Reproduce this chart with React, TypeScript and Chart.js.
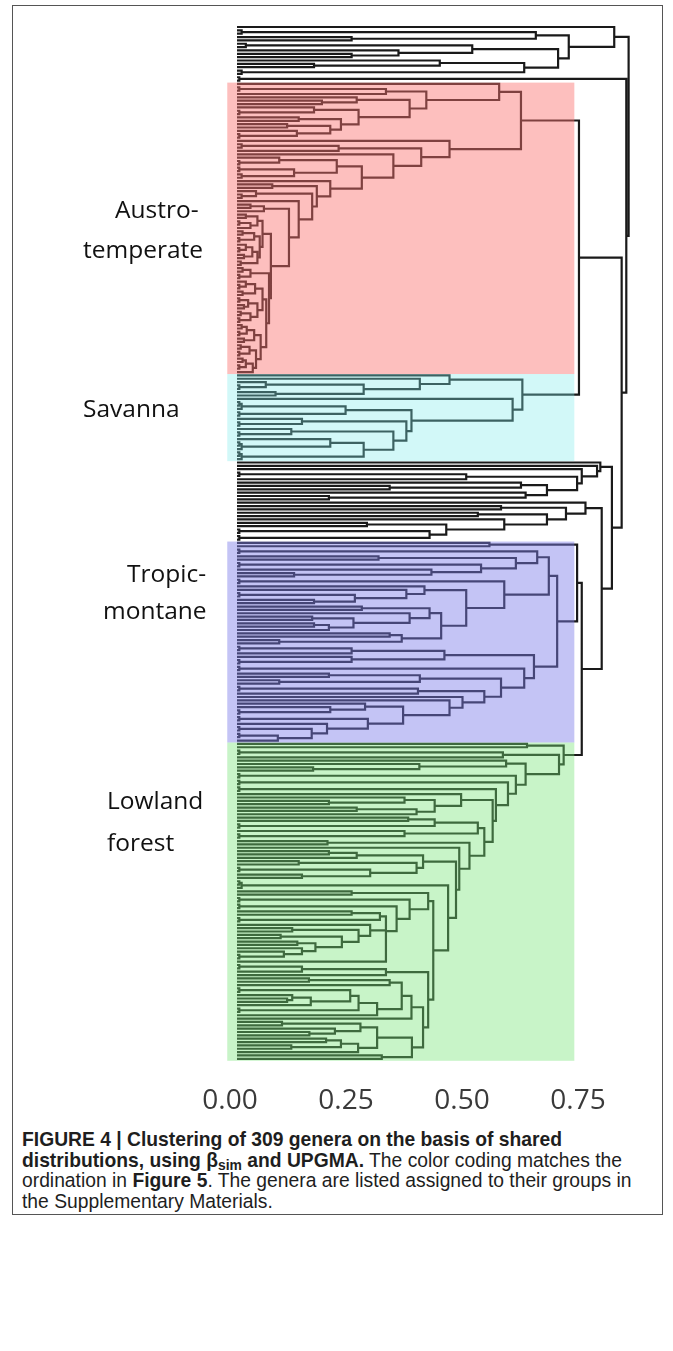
import React, { useEffect, useRef } from "react";
import { Chart, registerables } from "chart.js";

Chart.register(...registerables);

// ---- DATA: merge height between each pair of neighbouring genera (leaf order, top to bottom) ----
const topGroupGaps = [0.813, 0.01, 0.644, 0.247, 0.715, 0.019, 0.507, 0.348, 0.247, 0.692, 0.437, 0.166, 0.619, 0.01];
const soloGaps = [0.005];
const austroGaps = [
  0.565, 0.005, 0.321, 0.408, 0.258, 0.183, 0.372, 0.166, 0.005, 0.262, 0.133, 0.224, 0.108, 0.201, 0.129, 0.005,
  0.612, 0.458, 0.01, 0.219, 0.397, 0.337, 0.091, 0.005, 0.215, 0.005, 0.123, 0.01, 0.269, 0.201, 0.076, 0.172,
  0.041, 0.01, 0.162, 0.133, 0.029, 0.058, 0.112,
  0.019, 0.044, 0.005, 0.029, 0.055, 0.012, 0.037, 0.005, 0.049, 0.019, 0.005, 0.033, 0.015, 0.044, 0.008,
  0.073,
  0.012, 0.029, 0.005, 0.069, 0.019, 0.005, 0.039, 0.012, 0.055, 0.005, 0.024, 0.015, 0.044, 0.008, 0.029, 0.005,
  0.063, 0.01, 0.021, 0.005, 0.037, 0.015, 0.051, 0.008, 0.027, 0.005, 0.041, 0.012, 0.019, 0.005, 0.034,
];
const savannaGaps = [
  0.458, 0.394, 0.062, 0.005, 0.273, 0.083, 0.615, 0.594, 0.005, 0.01, 0.234, 0.005, 0.376, 0.14, 0.005, 0.365,
  0.117, 0.005, 0.337, 0.201, 0.005, 0.01, 0.273, 0.005, 0.01,
];
const midUpperGaps = [0.783, 0.776, 0.743, 0.005, 0.494, 0.733, 0.612, 0.329, 0.668, 0.622, 0.198];
const midLowerGaps = [0.751, 0.569, 0.709, 0.519, 0.668, 0.576, 0.28, 0.451, 0.005, 0.415, 0.005];
const tropicGaps = [
  0.544, 0.733, 0.005, 0.647, 0.305, 0.601, 0.005, 0.526, 0.419, 0.123, 0.672, 0.005, 0.576, 0.404, 0.365, 0.005,
  0.254, 0.166, 0.494, 0.269, 0.415, 0.372, 0.162, 0.251, 0.166, 0.198, 0.44, 0.329, 0.355, 0.091, 0.69, 0.005,
  0.247, 0.447, 0.247, 0.005, 0.64, 0.005, 0.619, 0.198, 0.394, 0.091, 0.569, 0.005, 0.39, 0.533, 0.486, 0.458,
  0.276, 0.201, 0.005, 0.358, 0.005, 0.282, 0.194, 0.005, 0.161, 0.005, 0.088,
];
const lowlandGaps = [
  0.625, 0.704, 0.005, 0.573, 0.694, 0.58, 0.393, 0.164, 0.622, 0.005, 0.601, 0.005, 0.584, 0.005, 0.558, 0.483,
  0.361, 0.198, 0.426, 0.258, 0.387, 0.551, 0.369, 0.426, 0.005, 0.519, 0.361, 0.005, 0.533, 0.195, 0.501, 0.479,
  0.198, 0.258, 0.401, 0.133, 0.387, 0.005, 0.287, 0.14, 0.472, 0.005, 0.01, 0.455, 0.247, 0.412, 0.005, 0.372,
  0.005, 0.344, 0.247, 0.308, 0.005, 0.321, 0.287, 0.119, 0.262, 0.094, 0.226, 0.13, 0.169, 0.14, 0.101, 0.005,
  0.321, 0.423, 0.005, 0.14, 0.321, 0.412, 0.155, 0.329, 0.355, 0.005, 0.244, 0.119, 0.108, 0.159, 0.262, 0.005,
  0.302, 0.376, 0.401, 0.097, 0.266, 0.211, 0.156, 0.302, 0.192, 0.224, 0.117, 0.261, 0.377, 0.312,
];
// heights at which consecutive groups join
const groupJoinHeights = [0.844, 0.839, 0.737, 0.829, 0.808, 0.786, 0.743];
const axisTicks = [0, 0.25, 0.5, 0.75];
const groupLabels = ["Austro-temperate", "Savanna", "Tropic-montane", "Lowland forest"];

// ---- styling / layout ----
const groupGapLists = [topGroupGaps, soloGaps, austroGaps, savannaGaps, midUpperGaps, midLowerGaps, tropicGaps, lowlandGaps];
const shadeOf: Record<number, string> = {
  2: "rgba(251,113,111,0.45)",
  3: "rgba(126,235,235,0.35)",
  6: "rgba(124,124,233,0.45)",
  7: "rgba(118,228,118,0.40)",
};
const SHADE_X = [-0.021, 0.727];

const CANVAS_W = 673;
const CANVAS_H = 1128;
const X_MIN = -0.1;
const X_MAX = 0.9;
const PX_PER_UNIT = 464;
const ZERO_X = 237;
const LEAF0_Y = 27;
const LEAF_STEP = 3.35;
const Y_MIN = -2;
const Y_MAX = 310.5;
const AXIS_H = 60;

function buildTree() {
  const gaps: number[] = [];
  const ranges: [number, number][] = [];
  let idx = 0;
  groupGapLists.forEach((g, gi) => {
    const start = idx;
    gaps.push(...g);
    idx += g.length;
    ranges.push([start, idx]);
    if (gi < groupJoinHeights.length) {
      gaps.push(groupJoinHeights[gi]);
      idx += 1;
    }
  });
  const pts: { x: number; y: number | null }[] = [];
  const build = (lo: number, hi: number): { y: number; h: number } => {
    if (lo === hi) return { y: lo, h: 0 };
    let m = lo;
    for (let i = lo; i < hi; i++) if (gaps[i] > gaps[m]) m = i;
    const L = build(lo, m);
    const R = build(m + 1, hi);
    const H = gaps[m];
    pts.push({ x: L.h, y: L.y }, { x: H, y: L.y }, { x: H, y: R.y }, { x: R.h, y: R.y }, { x: R.h, y: null });
    return { y: (L.y + R.y) / 2, h: H };
  };
  build(0, gaps.length);
  return { pts, ranges };
}

export default function App() {
  const ref = useRef<HTMLCanvasElement | null>(null);
  useEffect(() => {
    document.body.style.margin = "0";
    const { pts, ranges } = buildTree();
    const shadePlugin = {
      id: "shade",
      afterDatasetsDraw(chart: any) {
        const { ctx, scales } = chart;
        const x = scales.x, y = scales.y;
        ctx.save();
        Object.keys(shadeOf).forEach((k) => {
          const gi = Number(k);
          const [a, b] = ranges[gi];
          const x1 = x.getPixelForValue(SHADE_X[0]);
          const x2 = x.getPixelForValue(SHADE_X[1]);
          const y1 = y.getPixelForValue(a - 0.4);
          const y2 = y.getPixelForValue(b + 0.6);
          ctx.fillStyle = shadeOf[gi];
          ctx.fillRect(x1, y1, x2 - x1, y2 - y1);
        });
        ctx.restore();
      },
    };
    const padLeft = ZERO_X + X_MIN * PX_PER_UNIT;
    const padRight = CANVAS_W - (ZERO_X + X_MAX * PX_PER_UNIT);
    const padTop = LEAF0_Y + Y_MIN * LEAF_STEP;
    const plotBottom = LEAF0_Y + Y_MAX * LEAF_STEP;
    const padBottom = CANVAS_H - plotBottom - AXIS_H;
    const chart = new Chart(ref.current as HTMLCanvasElement, {
      type: "scatter",
      data: {
        datasets: [
          {
            data: pts as any,
            showLine: true,
            spanGaps: false,
            borderColor: "#1a1a1a",
            borderWidth: 2.2,
            pointRadius: 0,
            tension: 0,
          } as any,
        ],
      },
      options: {
        animation: false,
        responsive: false,
        devicePixelRatio: 1,
        events: [],
        layout: { padding: { left: padLeft, right: padRight, top: padTop, bottom: padBottom } },
        plugins: { legend: { display: false }, tooltip: { enabled: false } },
        scales: {
          x: {
            type: "linear",
            min: X_MIN,
            max: X_MAX,
            grid: { display: false, drawTicks: false },
            border: { display: false },
            afterBuildTicks: (s: any) => {
              s.ticks = axisTicks.map((v) => ({ value: v }));
            },
            afterFit: (s: any) => {
              s.height = AXIS_H;
            },
            ticks: {
              autoSkip: false,
              maxRotation: 0,
              padding: 17,
              labelOffset: -7,
              color: "#3a3a3a",
              font: { family: "'Open Sans'", size: 28 },
              callback: (v: any) => Number(v).toFixed(2),
            },
          },
          y: { type: "linear", display: false, reverse: true, min: Y_MIN, max: Y_MAX },
        },
      } as any,
      plugins: [shadePlugin],
    });
    return () => chart.destroy();
  }, []);

  const labelStyle: React.CSSProperties = {
    position: "absolute",
    fontFamily: "'Open Sans', sans-serif",
    fontSize: 24.5,
    lineHeight: "24px",
    color: "#111",
    whiteSpace: "nowrap",
  };
  const [austro, savanna, tropic, lowland] = groupLabels;
  const [a1, a2] = austro.split("-");
  const [t1, t2] = tropic.split("-");
  const [l1, l2] = lowland.split(" ");
  const captionStyle: React.CSSProperties = {
    position: "absolute",
    left: 22,
    top: 1130,
    width: 645,
    fontFamily: "'Liberation Sans', Arial, sans-serif",
    fontSize: 19.3,
    lineHeight: "20.7px",
    color: "#1e1e1e",
    whiteSpace: "nowrap",
  };
  return (
    <div style={{ position: "absolute", left: 0, top: 0, width: 673, height: 1351, background: "#fff" }}>
      <div style={{ position: "absolute", left: 12, top: 5, width: 651, height: 1210, border: "1px solid #555", boxSizing: "border-box" }} />
      <canvas ref={ref} width={CANVAS_W} height={CANVAS_H} style={{ position: "absolute", left: 0, top: 0, width: CANVAS_W, height: CANVAS_H }} />
      <div style={{ ...labelStyle, left: 115, top: 197 }}>{a1 + "-"}</div>
      <div style={{ ...labelStyle, left: 83, top: 237 }}>{a2}</div>
      <div style={{ ...labelStyle, left: 83, top: 396 }}>{savanna}</div>
      <div style={{ ...labelStyle, left: 127, top: 561 }}>{t1 + "-"}</div>
      <div style={{ ...labelStyle, left: 103, top: 598 }}>{t2}</div>
      <div style={{ ...labelStyle, left: 107, top: 788 }}>{l1}</div>
      <div style={{ ...labelStyle, left: 107, top: 830 }}>{l2}</div>
      <div style={captionStyle}>
        <b>FIGURE 4 | Clustering of 309 genera on the basis of shared</b>
        <br />
        <b>
          distributions, using β<sub style={{ fontSize: "0.72em", verticalAlign: "-0.25em", lineHeight: 0 }}>sim</sub> and UPGMA.
        </b>{" "}
        The color coding matches the
        <br />
        ordination in <b>Figure 5</b>. The genera are listed assigned to their groups in
        <br />
        the Supplementary Materials.
      </div>
    </div>
  );
}
